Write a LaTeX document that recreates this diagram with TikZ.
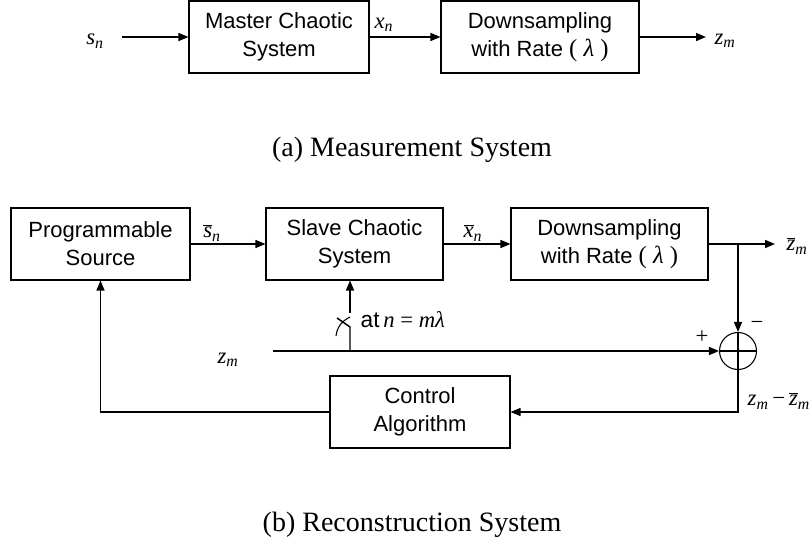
\documentclass[tikz,border=0pt]{standalone}
\usepackage{fontspec}
\setmainfont{Liberation Serif}
\newfontfamily\arialf{Liberation Sans}
\usetikzlibrary{arrows.meta,positioning}
\newcommand{\iv}[2]{\textit{#1}\textsubscript{\textit{#2}}}
\newcommand{\bv}[2]{$\overline{\mbox{\textit{#1}}}$\textsubscript{\textit{#2}}}
\tikzset{blk/.style={draw,line width=0.8pt,align=center,inner sep=0pt,
    minimum height=54pt,font=\arialf\fontsize{16.5}{21}\selectfont},
  lbl/.style={inner sep=0pt,font=\fontsize{17}{20}\selectfont},
  capt/.style={inner sep=0pt,font=\fontsize{21}{25}\selectfont}}

\begin{document}
\begin{tikzpicture}[x=0.75pt,y=-0.75pt,>={Triangle[length=7.5pt,width=6pt]},line width=1.1pt]
\useasboundingbox (0,0) rectangle (809,542);
% (a) measurement
\node[blk,minimum width=135pt] (master) at (279,37) {Master Chaotic\\System};
\node[blk,minimum width=148.5pt] (downa) at (540,37) {Downsampling\\with Rate {\rmfamily\fontsize{18.5}{21}\selectfont( \textit{λ} )}};
\node[lbl] (sn) at (95,41) {\iv{s}{n}};
\node[lbl] (xn) at (384,25) {\iv{x}{n}};
\node[lbl] (zma) at (725,41) {\iv{z}{m}};
\coordinate (ina) at (122,37);
\coordinate (outa) at (706,37);
\draw[->] (ina) -- (master);
\draw[->] (master) -- (downa);
\draw[->] (downa) -- (outa);
\node[capt] (capa) at (412,150) {(a) Measurement System};
% (b) reconstruction
\node[blk,minimum width=134.25pt] (prog) at (100.5,244) {Programmable\\Source};
\node[blk,minimum width=132.75pt] (slave) at (354.5,244) {Slave Chaotic\\System};
\node[blk,minimum width=147.75pt] (downb) at (609.5,244) {Downsampling\\with Rate {\rmfamily\fontsize{18.5}{21}\selectfont( \textit{λ} )}};
\node[blk,minimum width=135pt] (ctrl) at (420,412) {Control\\Algorithm};
\node[draw,circle,line width=0.8pt,minimum size=27.75pt,inner sep=0pt] (sum) at (738,351) {};
\draw[line width=0.8pt] (sum.north) -- (sum.south) (sum.west) -- (sum.east);
\node[lbl] (snb) at (212,233) {\bv{s}{n}};
\node[lbl] (xnb) at (473,233) {\bv{x}{n}};
\node[lbl] (zmb) at (797,246) {\bv{z}{m}};
\node[lbl] (zmin) at (228,360) {\iv{z}{m}};
\node[lbl] (plus) at (702,337) {+};
\node[lbl] (minus) at (757,325) {−};
\node[lbl,anchor=west] (err) at (747,401) {\iv{z}{m}\,−\,\bv{z}{m}};
\node[lbl,anchor=west] (at) at (360,320) {{\arialf at}\,\textit{n} = \textit{mλ}};
\coordinate (br) at (738,244);
\coordinate (outb) at (775,244);
\coordinate (inb) at (273,351);
\draw[->] (prog) -- (slave);
\draw[->] (slave) -- (downb);
\draw[->] (downb) -- (outb);
\draw[->] (br) -- (sum);
\draw[->] (inb) -- (sum);
\draw[->] (sum) |- (ctrl);
\draw[->] (ctrl) -| (prog);
% sampling switch
\coordinate (sw) at (350,351);
\coordinate (swa) at (350,327);
\coordinate (swb) at (337,318);
\coordinate (swt) at (350,313);
\draw (sw) -- (swa) -- (swb);
\draw[line width=0.8pt] (336,336) .. controls (337,327) and (342,321) .. (350,317);
\draw[->] (swt) -- (swt |- slave.south);
\node[capt] (capb) at (412,525) {(b) Reconstruction System};
\end{tikzpicture}
\end{document}
